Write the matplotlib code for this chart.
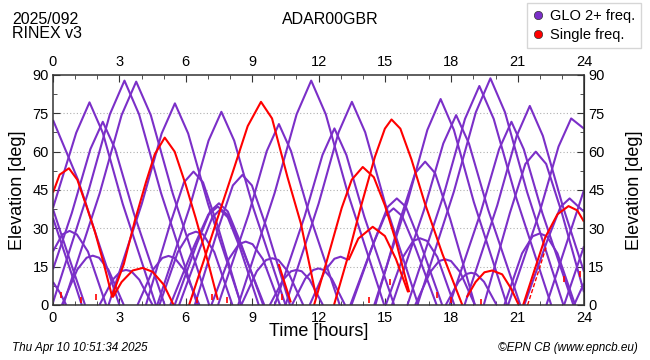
import matplotlib
matplotlib.use('Agg')
import matplotlib.pyplot as plt
from matplotlib.lines import Line2D
from matplotlib.ticker import MultipleLocator

plt.rcParams['font.family'] = ['Liberation Sans', 'DejaVu Sans']

PURPLE = '#7b2fc8'
RED = '#ff0000'

# ── GLONASS passes with 2+ frequencies: (hour, elevation deg) ───────────────
glo_arcs = [
    [(0, 72.4), (0.55, 61), (1.13, 49), (2.0, 26), (3.0, 0)],
    [(0, 38), (1.05, 67.4), (1.65, 79.3), (2.25, 67.4), (3.15, 39.6), (4.65, 0)],
    [(0, 14), (0.85, 36), (1.69, 61), (2.25, 71.7), (2.81, 61), (3.65, 36), (5.05, 0)],
    [(0, 1), (1.58, 43.9), (2.57, 74.6), (3.23, 87.8), (3.89, 74.6), (4.88, 43.9), (6.53, 0)],
    [(0.46, 0), (2.11, 43.7), (3.1, 74.3), (3.76, 87.4), (4.42, 74.3), (5.41, 43.7), (7.06, 0)],
    [(0, 21), (0.42, 27.6), (0.75, 29), (1.08, 27.6), (1.58, 20.9), (2.4, 0)],
    [(0.4, 0), (1.1, 13.9), (1.52, 18.5), (1.8, 19.3), (2.08, 18.5), (2.5, 13.9), (3.2, 0)],
    [(2.1, 0), (2.7, 9.9), (3.06, 13.2), (3.3, 13.7), (3.54, 13.2), (3.9, 9.9), (4.5, 0)],
    [(0, 37.5), (0.4, 27), (0.9, 14), (1.45, 0)],
    [(0, 34), (0.5, 21), (1.0, 8), (1.3, 0)],
    [(0, 9), (0.3, 5), (0.6, 0)],
    [(3.82, 0), (4.52, 13.8), (4.94, 18.4), (5.22, 19.2), (5.5, 18.4), (5.92, 13.8), (6.62, 0)],
    [(2.51, 0), (4.01, 39.5), (4.91, 67.1), (5.51, 78.9), (6.11, 67.1), (7.01, 39.5), (8.51, 0)],
    [(4.71, 0), (6.16, 37.8), (7.03, 64.3), (7.61, 75.6), (8.19, 64.3), (9.06, 37.8), (10.51, 0)],
    [(4.2, 0), (5.28, 31.3), (5.92, 48), (6.35, 52.2), (6.78, 48), (7.43, 31.3), (8.5, 0)],
    [(5.5, 0), (6.5, 23.9), (7.1, 36.6), (7.5, 39.8), (7.9, 36.6), (8.5, 23.9), (9.5, 0)],
    [(5.3, 0), (6.38, 23.1), (7.02, 35.4), (7.45, 38.5), (7.88, 35.4), (8.5, 23.1), (9.55, 0)],
    [(5.7, 0), (6.65, 22.4), (7.2, 34.3), (7.55, 37.3), (7.9, 34.3), (8.45, 22.4), (9.3, 0)],
    [(4.81, 0), (5.64, 20.7), (6.13, 27.6), (6.46, 28.7), (6.79, 27.6), (7.29, 20.7), (8.11, 0)],
    [(6.41, 0), (7.49, 30.5), (8.13, 46.8), (8.56, 50.9), (8.99, 46.8), (9.64, 30.5), (10.71, 0)],
    [(7.46, 0), (8.84, 35.4), (9.66, 60.2), (10.21, 70.8), (10.76, 60.2), (11.59, 35.4), (12.96, 0)],
    [(8.37, 0), (10.02, 43.9), (11.01, 74.6), (11.67, 87.8), (12.33, 74.6), (13.32, 43.9), (14.97, 0)],
    [(7.16, 0), (7.94, 17.9), (8.4, 23.8), (8.71, 24.8), (9.02, 23.8), (9.49, 17.9), (10.26, 0)],
    [(8.51, 0), (9.21, 13.2), (9.63, 17.6), (9.91, 18.3), (10.19, 17.6), (10.61, 13.2), (11.31, 0)],
    [(9.8, 0), (10.4, 9.9), (10.76, 13.2), (11.0, 13.7), (11.24, 13.2), (11.6, 9.9), (12.2, 0)],
    [(10.8, 0), (11.4, 10.3), (11.76, 13.7), (12.0, 14.3), (12.24, 13.7), (12.6, 10.3), (13.2, 0)],
    [(11.6, 0), (12.3, 13.6), (12.72, 18.1), (13.0, 18.9), (13.36, 17.6)],
    [(10.02, 0), (11.37, 34.6), (12.18, 58.7), (12.72, 69.1), (13.26, 58.7), (14.07, 34.6), (15.42, 0)],
    [(10.51, 0), (12.01, 39.8), (12.91, 67.6), (13.51, 79.5), (14.11, 67.6), (15.01, 39.8), (16.51, 0)],
    [(13.49, 0), (14.52, 25), (15.13, 38.4), (15.54, 41.7), (15.95, 38.4), (16.57, 25), (17.59, 0)],
    [(13.44, 0), (14.42, 22.7), (15.0, 34.8), (15.39, 37.8), (15.78, 34.8), (16.37, 22.7), (17.34, 0)],
    [(14.52, 0), (16.02, 40.3), (16.92, 68.5), (17.52, 80.6), (18.12, 68.5), (19.02, 40.3), (20.52, 0)],
    [(15.32, 0), (16.77, 37.2), (17.64, 63.2), (18.22, 74.3), (18.8, 63.2), (19.67, 37.2), (21.12, 0)],
    [(16.02, 0), (17.65, 42.9), (18.62, 72.8), (19.27, 85.7), (19.92, 72.8), (20.9, 42.9), (22.52, 0)],
    [(16.47, 0), (18.12, 44.4), (19.11, 75.4), (19.77, 88.7), (20.43, 75.4), (21.42, 44.4), (23.07, 0)],
    [(14.57, 0), (15.7, 33.7), (16.37, 51.6), (16.82, 56.1), (17.27, 51.6), (17.95, 33.7), (19.07, 0)],
    [(15.04, 0), (15.82, 18.8), (16.28, 25.1), (16.59, 26.1), (16.9, 25.1), (17.37, 18.8), (18.14, 0)],
    [(16.37, 0), (17.05, 12.9), (17.45, 17.2), (17.72, 17.9), (17.99, 17.2), (18.4, 12.9), (19.07, 0)],
    [(17.75, 0), (18.33, 9.1), (18.67, 12.1), (18.9, 12.6), (19.13, 12.1), (19.48, 9.1), (20.05, 0)],
    [(17.92, 0), (19.32, 35.9), (20.16, 60.9), (20.72, 71.7), (21.28, 60.9), (22.12, 35.9), (23.52, 0)],
    [(18.6, 0), (20.08, 39), (20.96, 66.2), (21.55, 77.9), (22.14, 66.2), (23.03, 39), (24, 13)],
    [(19.47, 0), (20.65, 36), (21.35, 55.2), (21.82, 60), (22.29, 55.2), (23.0, 36), (24, 5)],
    [(20.57, 0), (22.0, 36.5), (22.85, 62), (23.42, 73), (24, 69)],
    [(21.3, 0), (22.33, 25), (22.94, 38.4), (23.35, 41.7), (23.76, 38.4), (24, 36.5)],
    [(20.4, 0), (21.2, 20.2), (21.68, 26.9), (22.0, 28), (22.32, 26.9), (22.8, 20.2), (23.6, 0)],
    [(22.3, 0), (24, 45)],
    [(23.1, 0), (24, 23)],
    [(23.55, 0), (24, 8.5)],
]

# ── single-frequency passes ─────────────────────────────────────────────────
single_arcs = [
    [(0, 44), (0.3, 51), (0.72, 53.5), (1.1, 49), (1.5, 39), (1.9, 28.5), (2.3, 16), (2.68, 3)],
    [(2.7, 3), (3.1, 9), (3.6, 13.5), (4.05, 14.5), (4.5, 13), (5.0, 8), (5.45, 0)],
    [(2.65, 3), (3.2, 16), (3.7, 33), (4.2, 48), (4.6, 59), (5.05, 65.5), (5.5, 60), (6.0, 47),
     (6.45, 34), (7.0, 17), (7.45, 2)],
    [(6.15, 0), (6.8, 17), (7.4, 33), (8.2, 54), (8.8, 70), (9.4, 79.5), (9.9, 73), (10.6, 50),
     (11.2, 32), (11.9, 3)],
    [(10.2, 16), (10.75, 1)],
    [(11.8, 0), (12.4, 18), (13.05, 38), (13.5, 49), (14.0, 54), (14.5, 50), (15.0, 39),
     (15.5, 25), (16.1, 5)],
    [(12.7, 0), (13.3, 18), (13.9, 38), (14.55, 58), (15.0, 69), (15.3, 72.6), (15.7, 69),
     (16.2, 57), (16.8, 40), (17.6, 20), (18.5, 0)],
    [(13.36, 17.6), (13.8, 26), (14.45, 30.6), (15.0, 27), (15.5, 18), (16.05, 5)],
    [(18.7, 3), (19.1, 9), (19.5, 12.8), (19.85, 13.5), (20.3, 12), (20.7, 6.5), (21.05, 0)],
    [(21.25, 0), (21.7, 12), (22.25, 26.5), (22.8, 35.5), (23.3, 38.7), (23.7, 37), (24, 32.6)],
]
single_dashed = [(21.45, 0), (21.9, 12), (22.3, 23)]

# short single-freq dots near the horizon
mark_hours = [0.38, 1.28, 1.95, 6.53, 7.2, 7.88, 10.36, 14.28, 15.24, 17.34, 18.0, 19.36, 23.1, 23.8]
mark_elev = [4, 2, 3, 2, 3, 2, 3, 2, 9, 4, 2, 1, 10, 12]

x_ticks = list(range(0, 25, 3))
y_ticks = list(range(0, 91, 15))

# ── figure ──────────────────────────────────────────────────────────────────
fig = plt.figure(figsize=(6.5, 3.6), dpi=100)
ax = fig.add_axes([53 / 650, 55 / 360, 531 / 650, 230 / 360])

for arc in glo_arcs:
    t, e = zip(*arc)
    ax.plot(t, e, color=PURPLE, lw=1.5, solid_joinstyle='round', solid_capstyle='butt')
for arc in single_arcs:
    t, e = zip(*arc)
    ax.plot(t, e, color=RED, lw=1.5, solid_joinstyle='round', solid_capstyle='butt')
t, e = zip(*single_dashed)
ax.plot(t, e, color=RED, lw=1.0, linestyle=(0, (3, 1.5)))
ax.plot(mark_hours, mark_elev, linestyle='none', marker='|', color=RED, ms=4, mew=1.2)

ax.set_xlim(0, 24)
ax.set_ylim(0, 90)
ax.set_xticks(x_ticks)
ax.set_yticks(y_ticks)
ax.xaxis.set_minor_locator(MultipleLocator(1))
ax.yaxis.set_minor_locator(MultipleLocator(7.5))
ax.tick_params(which='both', direction='in', top=True, right=True,
               labeltop=True, labelright=True, labelsize=10.5, color='#333333')
ax.tick_params(axis='x', which='both', pad=4)
ax.tick_params(axis='y', which='both', pad=3)
ax.tick_params(which='major', length=5, width=0.8)
ax.tick_params(which='minor', length=3, width=0.6)
for s in ax.spines.values():
    s.set_color('#333333')
    s.set_linewidth(1.1)

for y in y_ticks[1:-1]:
    ax.axhline(y, color='#b0b0b0', lw=0.8, linestyle=(0, (1, 2)), zorder=0)

ax.set_xlabel('Time [hours]', fontsize=13, labelpad=-1)
ax.set_ylabel('Elevation [deg]', fontsize=13, labelpad=5)
ax2 = ax.secondary_yaxis('right')
ax2.set_yticks([])
ax2.tick_params(right=False, labelright=False)
ax2.set_ylabel('Elevation [deg]', fontsize=13, labelpad=30)

fig.text(12 / 650, 1 - 12 / 360, '2025/092\nRINEX v3', fontsize=11.5, va='top', ha='left',
         linespacing=0.95)
fig.text(330 / 650, 1 - 20 / 360, 'ADAR00GBR', fontsize=11.5, va='center', ha='center')

handles = [
    Line2D([], [], linestyle='none', marker='o', ms=6, mfc=PURPLE, mec='#333333', mew=0.5),
    Line2D([], [], linestyle='none', marker='o', ms=6, mfc=RED, mec='#333333', mew=0.5),
]
fig.legend(handles, ['GLO 2+ freq.', 'Single freq.'], loc='upper right',
           bbox_to_anchor=(641 / 650, 1 - 3 / 360), fontsize=10.5, frameon=True,
           fancybox=False, edgecolor='#cccccc', handlelength=0.8, handletextpad=0.4,
           borderpad=0.4, labelspacing=0.35, borderaxespad=0)

fig.text(12 / 650, 1 - 348 / 360, 'Thu Apr 10 10:51:34 2025', fontsize=8.5, style='italic',
         va='center', ha='left')
fig.text(638 / 650, 1 - 348 / 360, '\u00a9EPN CB (www.epncb.eu)', fontsize=8.5, style='italic',
         va='center', ha='right')

fig.savefig('out.png', dpi=100)
